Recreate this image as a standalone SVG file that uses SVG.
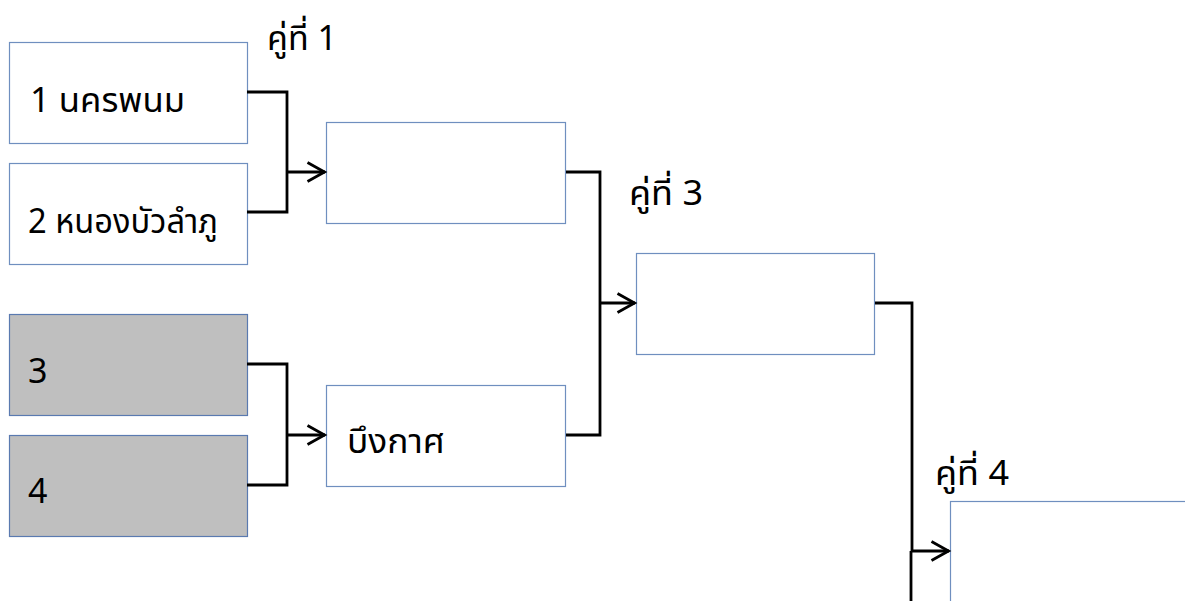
<svg xmlns="http://www.w3.org/2000/svg" width="1185" height="601" viewBox="0 0 1185 601">
<defs>
<marker id="arr" markerWidth="22" markerHeight="24" refX="19" refY="11" orient="auto" markerUnits="userSpaceOnUse">
<path d="M1.5,1.5 L18.5,11 L1.5,20.5" fill="none" stroke="#000" stroke-width="2.8"/>
</marker>
<style>
.box{fill:#fff;stroke:#6f8fbf;stroke-width:1.2}
.gray{fill:#bfbfbf;stroke:#5a7ab0;stroke-width:1.2}
.ln{fill:none;stroke:#000;stroke-width:2.8}
text{font-family:"Noto Sans Thai","Noto Sans","Liberation Sans",sans-serif;font-size:34px;fill:#000}
</style>
</defs>
<rect width="1185" height="601" fill="#fff"/>
<g id="n1"><rect class="box" x="9.5" y="42.5" width="238" height="101"/><text x="30" y="112" textLength="155" lengthAdjust="spacingAndGlyphs">1 นครพนม</text></g>
<g id="n2"><rect class="box" x="9.5" y="163.5" width="238" height="101"/><text x="28" y="233" textLength="190" lengthAdjust="spacingAndGlyphs">2 หนองบัวลำภู</text></g>
<g id="n3"><rect class="gray" x="9.5" y="314.5" width="238" height="101"/><text x="28" y="383" font-size="32">3</text></g>
<g id="n4"><rect class="gray" x="9.5" y="435.5" width="238" height="101"/><text x="28" y="503" font-size="32">4</text></g>
<g id="n5"><rect class="box" x="326.5" y="122.5" width="239" height="101"/></g>
<g id="n6"><rect class="box" x="326.5" y="385.5" width="239" height="101"/><text x="347" y="453" font-size="32" textLength="98" lengthAdjust="spacingAndGlyphs">บึงกาศ</text></g>
<g id="n7"><rect class="box" x="636.5" y="253.5" width="238" height="101"/></g>
<g id="n8"><rect class="box" x="950.5" y="501.5" width="240" height="110"/></g>
<g id="labels">
<text x="267" y="50" textLength="70" lengthAdjust="spacingAndGlyphs">คู่ที่ 1</text>
<text x="629" y="205" textLength="74" lengthAdjust="spacingAndGlyphs">คู่ที่ 3</text>
<text x="935" y="485" textLength="74" lengthAdjust="spacingAndGlyphs">คู่ที่ 4</text>
</g>
<g id="connectors">
<path class="ln" d="M247,92 H287 V212 H247"/>
<path class="ln" d="M287,172 H325" marker-end="url(#arr)"/>
<path class="ln" d="M247,364 H287 V485 H247"/>
<path class="ln" d="M287,435 H325" marker-end="url(#arr)"/>
<path class="ln" d="M566,172 H600 V435 H566"/>
<path class="ln" d="M600,303 H635" marker-end="url(#arr)"/>
<path class="ln" d="M875,303 H912 V551"/>
<path class="ln" d="M911,551 V601"/>
<path class="ln" d="M911,551 H949" marker-end="url(#arr)"/>
</g>
</svg>
